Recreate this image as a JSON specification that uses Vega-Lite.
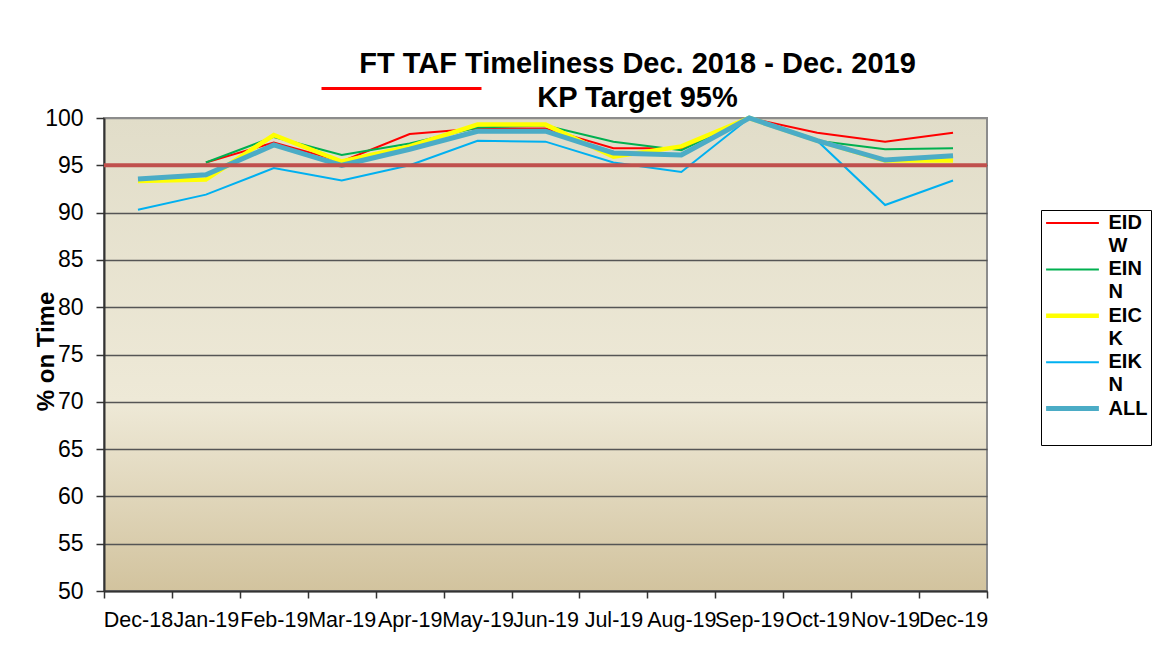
{
  "$schema": "https://vega.github.io/schema/vega-lite/v6.json",
  "width": 883,
  "height": 473,
  "autosize": {"type": "none"},
  "padding": {"left": 104, "top": 118, "right": 165, "bottom": 58},
  "background": "white",
  "title": {
    "text": ["FT TAF Timeliness Dec. 2018 - Dec. 2019", "KP Target 95%"],
    "font": "Liberation Sans",
    "fontSize": 29,
    "fontWeight": "bold",
    "color": "black",
    "lineHeight": 34,
    "anchor": "middle",
    "dx": 92,
    "offset": -106
  },
  "data": {
    "values": [
      {"month": "Jan-19", "station": "EIDW", "value": 95.3},
      {"month": "Feb-19", "station": "EIDW", "value": 97.4},
      {"month": "Mar-19", "station": "EIDW", "value": 95.4},
      {"month": "Apr-19", "station": "EIDW", "value": 98.3},
      {"month": "May-19", "station": "EIDW", "value": 98.9},
      {"month": "Jun-19", "station": "EIDW", "value": 98.9},
      {"month": "Jul-19", "station": "EIDW", "value": 96.8},
      {"month": "Aug-19", "station": "EIDW", "value": 96.8},
      {"month": "Sep-19", "station": "EIDW", "value": 100},
      {"month": "Oct-19", "station": "EIDW", "value": 98.45},
      {"month": "Nov-19", "station": "EIDW", "value": 97.5},
      {"month": "Dec-19", "station": "EIDW", "value": 98.45},
      {"month": "Jan-19", "station": "EINN", "value": 95.3},
      {"month": "Feb-19", "station": "EINN", "value": 98.0},
      {"month": "Mar-19", "station": "EINN", "value": 96.1},
      {"month": "Apr-19", "station": "EINN", "value": 97.3},
      {"month": "May-19", "station": "EINN", "value": 99.0},
      {"month": "Jun-19", "station": "EINN", "value": 99.2},
      {"month": "Jul-19", "station": "EINN", "value": 97.5},
      {"month": "Aug-19", "station": "EINN", "value": 96.6},
      {"month": "Sep-19", "station": "EINN", "value": 100},
      {"month": "Oct-19", "station": "EINN", "value": 97.6},
      {"month": "Nov-19", "station": "EINN", "value": 96.7},
      {"month": "Dec-19", "station": "EINN", "value": 96.8},
      {"month": "Dec-18", "station": "EICK", "value": 93.35},
      {"month": "Jan-19", "station": "EICK", "value": 93.5},
      {"month": "Feb-19", "station": "EICK", "value": 98.2},
      {"month": "Mar-19", "station": "EICK", "value": 95.4},
      {"month": "Apr-19", "station": "EICK", "value": 97.0},
      {"month": "May-19", "station": "EICK", "value": 99.3},
      {"month": "Jun-19", "station": "EICK", "value": 99.3},
      {"month": "Jul-19", "station": "EICK", "value": 95.9},
      {"month": "Aug-19", "station": "EICK", "value": 97.0},
      {"month": "Sep-19", "station": "EICK", "value": 100},
      {"month": "Oct-19", "station": "EICK", "value": 97.6},
      {"month": "Nov-19", "station": "EICK", "value": 95.5},
      {"month": "Dec-19", "station": "EICK", "value": 95.5},
      {"month": "Dec-18", "station": "EIKN", "value": 90.3},
      {"month": "Jan-19", "station": "EIKN", "value": 91.9},
      {"month": "Feb-19", "station": "EIKN", "value": 94.7},
      {"month": "Mar-19", "station": "EIKN", "value": 93.4},
      {"month": "Apr-19", "station": "EIKN", "value": 95.0},
      {"month": "May-19", "station": "EIKN", "value": 97.6},
      {"month": "Jun-19", "station": "EIKN", "value": 97.5},
      {"month": "Jul-19", "station": "EIKN", "value": 95.3},
      {"month": "Aug-19", "station": "EIKN", "value": 94.3},
      {"month": "Sep-19", "station": "EIKN", "value": 100},
      {"month": "Oct-19", "station": "EIKN", "value": 97.6},
      {"month": "Nov-19", "station": "EIKN", "value": 90.8},
      {"month": "Dec-19", "station": "EIKN", "value": 93.4},
      {"month": "Dec-18", "station": "ALL", "value": 93.55},
      {"month": "Jan-19", "station": "ALL", "value": 94.0},
      {"month": "Feb-19", "station": "ALL", "value": 97.15},
      {"month": "Mar-19", "station": "ALL", "value": 95.0},
      {"month": "Apr-19", "station": "ALL", "value": 96.7},
      {"month": "May-19", "station": "ALL", "value": 98.6},
      {"month": "Jun-19", "station": "ALL", "value": 98.6},
      {"month": "Jul-19", "station": "ALL", "value": 96.3},
      {"month": "Aug-19", "station": "ALL", "value": 96.1},
      {"month": "Sep-19", "station": "ALL", "value": 100},
      {"month": "Oct-19", "station": "ALL", "value": 97.6},
      {"month": "Nov-19", "station": "ALL", "value": 95.55},
      {"month": "Dec-19", "station": "ALL", "value": 96.0}
    ]
  },
  "layer": [
    {
      "encoding": {
        "x": {
          "field": "month",
          "type": "ordinal",
          "sort": ["Dec-18", "Jan-19", "Feb-19", "Mar-19", "Apr-19", "May-19", "Jun-19", "Jul-19", "Aug-19", "Sep-19", "Oct-19", "Nov-19", "Dec-19"],
          "scale": {"type": "band", "paddingInner": 0, "paddingOuter": 0},
          "bandPosition": 0.5,
          "axis": {
            "title": null,
            "labelAngle": 0,
            "labelFont": "Liberation Sans",
            "labelFontSize": 21.5,
            "labelColor": "black",
            "labelOverlap": false,
            "labelPadding": 11,
            "tickBand": "extent",
            "tickSize": 7,
            "tickColor": "#333333",
            "tickWidth": 1.5,
            "domainColor": "#333333",
            "domainWidth": 2,
            "grid": false
          }
        },
        "y": {
          "field": "value",
          "type": "quantitative",
          "scale": {"domain": [50, 100], "nice": false, "zero": false},
          "axis": {
            "title": "% on Time",
            "values": [50, 55, 60, 65, 70, 75, 80, 85, 90, 95, 100],
            "labelFont": "Liberation Sans",
            "labelFontSize": 23,
            "labelColor": "black",
            "labelPadding": 13,
            "tickSize": 8,
            "tickColor": "#333333",
            "tickWidth": 1.5,
            "domainColor": "#333333",
            "domainWidth": 2,
            "grid": true,
            "gridColor": {"condition": {"test": "datum.value == 100", "value": "#8c8c8c"}, "value": "#555555"},
            "gridWidth": 1.6,
            "titleFont": "Liberation Sans",
            "titleFontSize": 24,
            "titleFontWeight": "bold",
            "titleColor": "black",
            "titleAngle": -90,
            "titleAlign": "center",
            "titleBaseline": "alphabetic",
            "titleX": -51,
            "titleY": 233
          }
        },
        "color": {
          "field": "station",
          "type": "nominal",
          "scale": {"domain": ["EIDW", "EINN", "EICK", "EIKN", "ALL"], "range": ["#FF0000", "#00B050", "#FFFF00", "#00B0F0", "#4BACC6"]},
          "legend": {
            "orient": "none",
            "legendX": 937,
            "legendY": 92,
            "title": null,
            "symbolType": "M-2.2,0H2.2",
            "symbolSize": 576,
            "symbolOffset": 18.5,
            "labelFont": "Liberation Sans",
            "labelFontSize": 20,
            "labelFontWeight": "bold",
            "labelColor": "black",
            "labelLimit": 0,
            "labelOffset": 26,
            "labelBaseline": "middle",
            "labelExpr": "datum.label == 'ALL' ? ['ALL', ''] : [slice(datum.label, 0, 3), slice(datum.label, 3)]",
            "fillColor": "white",
            "strokeColor": "black",
            "padding": 3,
            "rowPadding": 3.4,
            "encode": {
              "labels": {"update": {"lineHeight": {"value": 23}}},
              "symbols": {
                "update": {"fill": {"value": "transparent"}, "strokeWidth": {"signal": "datum.value === 'EICK' ? 4.5 : datum.value === 'ALL' ? 5 : 2"}}
              }
            }
          }
        }
      },
      "layer": [
        {
          "transform": [{"filter": "datum.station == 'EIDW' || datum.station == 'EINN'"}],
          "mark": {"type": "line", "strokeWidth": 2}
        },
        {
          "transform": [{"filter": "datum.station == 'EICK'"}],
          "mark": {"type": "line", "strokeWidth": 4.5}
        },
        {
          "transform": [{"filter": "datum.station == 'EIKN'"}],
          "mark": {"type": "line", "strokeWidth": 2}
        },
        {
          "transform": [{"filter": "datum.station == 'ALL'"}],
          "mark": {"type": "line", "strokeWidth": 5}
        }
      ]
    },
    {
      "data": {"values": [{"target": 95, "label": "KP Target"}]},
      "mark": {"type": "rule", "color": "#C0504D", "strokeWidth": 4},
      "encoding": {
        "y": {"field": "target", "type": "quantitative"},
        "strokeDash": {
          "field": "label",
          "type": "nominal",
          "scale": {"range": [[1, 0]]},
          "legend": {
            "orient": "none",
            "legendX": 216,
            "legendY": -111,
            "title": null,
            "labelExpr": "''",
            "symbolType": "stroke",
            "symbolSize": 25600,
            "symbolStrokeColor": "#FF0000",
            "symbolStrokeWidth": 3,
            "padding": 0
          }
        }
      }
    }
  ],
  "config": {
    "font": "Liberation Sans",
    "view": {
      "fill": {
        "gradient": "linear",
        "x1": 0, "y1": 0, "x2": 0, "y2": 1,
        "stops": [
          {"offset": 0, "color": "#E1DDC9"},
          {"offset": 0.6, "color": "#EEE9D7"},
          {"offset": 1, "color": "#D2C39E"}
        ]
      },
      "stroke": "#8c8c8c",
      "strokeWidth": 2
    }
  }
}
